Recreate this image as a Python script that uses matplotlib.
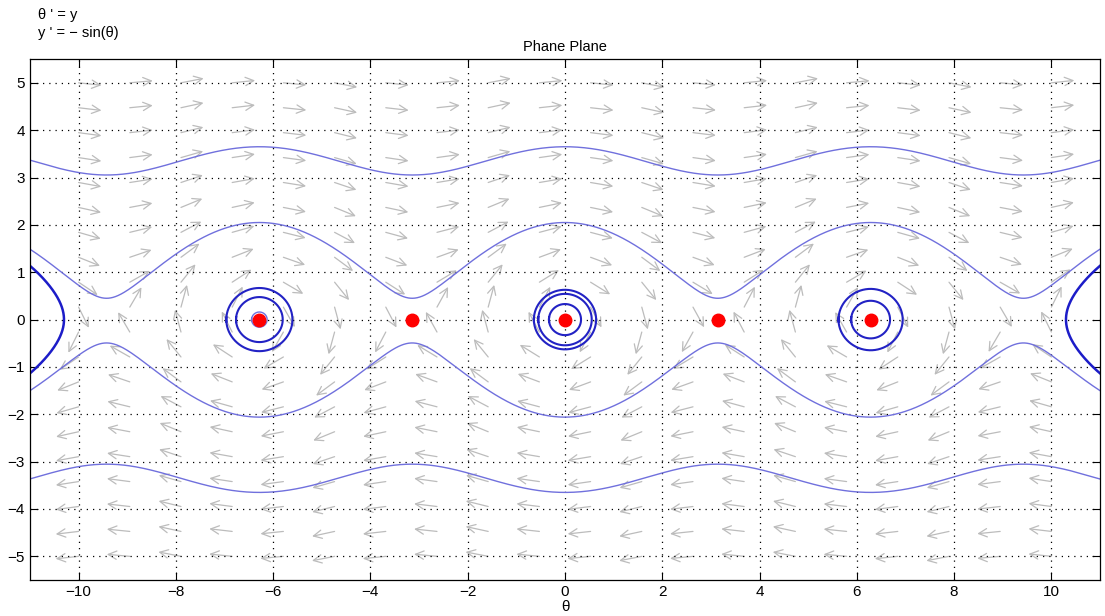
import numpy as np
import matplotlib
matplotlib.use("Agg")
import matplotlib.pyplot as plt

plt.rcParams['font.family'] = ['Liberation Sans', 'DejaVu Sans']
plt.rcParams['axes.unicode_minus'] = True

# window
x_lim = [-11, 11]
y_lim = [-5.5, 5.5]
x_ticks = [-10, -8, -6, -4, -2, 0, 2, 4, 6, 8, 10]
y_ticks = [-5, -4, -3, -2, -1, 0, 1, 2, 3, 4, 5]

# direction field grid
field_x = np.linspace(-10, 10, 20)
field_y = np.linspace(-5, 5, 20)

# initial points of the drawn solutions (theta, y)
thin_starts = [(0, 3.65), (0, -3.65), (0, 2.05), (0, -2.06)]
edge_starts = [(10.30, 0), (-10.30, 0)]
orbit_starts = [(0.64, 0), (0.55, 0), (0.33, 0),
                (-2 * np.pi + 0.68, 0), (-2 * np.pi + 0.48, 0),
                (2 * np.pi + 0.66, 0), (2 * np.pi + 0.40, 0)]
small_starts = [(-2 * np.pi + 0.16, 0)]

# equilibrium points
eq_theta = [-2 * np.pi, -np.pi, 0, np.pi, 2 * np.pi]
eq_y = [0, 0, 0, 0, 0]


def f(s):
    return np.array([s[1], -np.sin(s[0])])


def solve(p0, t_end, dt=0.01):
    """RK4 both ways in time"""
    out = []
    for sgn in (-1, 1):
        s = np.array(p0, dtype=float)
        pts = [s.copy()]
        h = sgn * dt
        for _ in range(int(t_end / dt)):
            k1 = f(s)
            k2 = f(s + h / 2 * k1)
            k3 = f(s + h / 2 * k2)
            k4 = f(s + h * k3)
            s = s + h / 6 * (k1 + 2 * k2 + 2 * k3 + k4)
            pts.append(s.copy())
            if abs(s[0]) > 11.5:
                break
        out.append(np.array(pts))
    back, fwd = out
    return np.vstack([back[::-1], fwd[1:]])


fig = plt.figure(figsize=(11.05, 6.16), dpi=100)
ax = fig.add_axes([0.0271, 0.0584, 0.9684, 0.8456])

# direction field, fixed pixel length arrows
px_x = 48.6
px_y = 47.3
arrow_px = 23
for yy in field_y:
    for xx in field_x:
        u, v = yy, -np.sin(xx)
        n = np.hypot(u * px_x, v * px_y)
        if n == 0:
            continue
        k = arrow_px / n
        ax.annotate("", xy=(xx + u * k, yy + v * k), xytext=(xx, yy),
                    arrowprops=dict(arrowstyle="->,head_length=0.6,head_width=0.3",
                                    color="#bcbcbc", lw=0.9, shrinkA=0, shrinkB=0),
                    annotation_clip=False, zorder=1)

for p in thin_starts:
    tr = solve(p, 15)
    ax.plot(tr[:, 0], tr[:, 1], color="#7070dd", lw=1.0, zorder=2)

for p in edge_starts:
    tr = solve(p, 6)
    ax.plot(tr[:, 0], tr[:, 1], color="#1c1cc8", lw=1.8, zorder=2)

for p in orbit_starts:
    tr = solve(p, 3.3)
    ax.plot(tr[:, 0], tr[:, 1], color="#2222c4", lw=1.5, zorder=2)

for p in small_starts:
    tr = solve(p, 3.3)
    ax.plot(tr[:, 0], tr[:, 1], color="#7070dd", lw=1.0, zorder=2)

ax.plot(eq_theta, eq_y, 'o', color="red", markersize=9, zorder=3)

ax.set_xlim(x_lim)
ax.set_ylim(y_lim)
ax.set_xticks(x_ticks)
ax.set_yticks(y_ticks)
ax.grid(True, linestyle=(0, (1, 4)), color="black", lw=0.9)
ax.tick_params(direction="in", top=True, right=True, length=6, labelsize=11, width=0.8)
for sp in ax.spines.values():
    sp.set_linewidth(0.9)

ax.set_title("Phane Plane", fontsize=10.5, pad=6)
ax.set_xlabel("θ", fontsize=11, labelpad=1)
fig.text(0.034, 0.969, "θ ' = y", fontsize=10.5, va="baseline")
fig.text(0.034, 0.940, "y ' = − sin(θ)", fontsize=10.5, va="baseline")

fig.savefig("out.png", dpi=100)
